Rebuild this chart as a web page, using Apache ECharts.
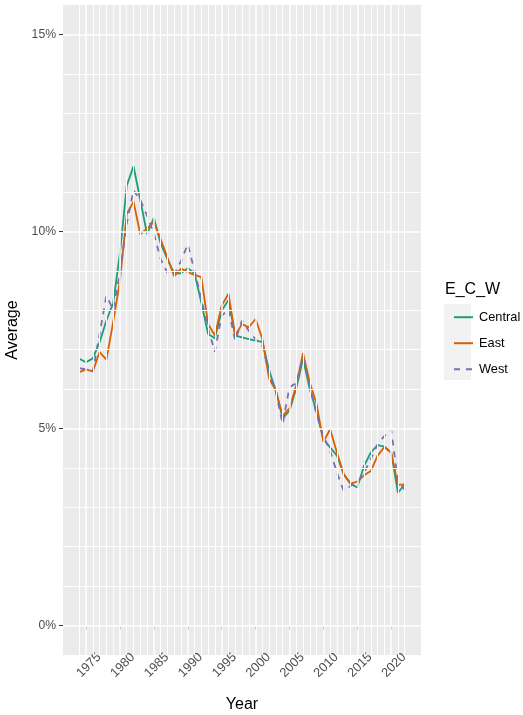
<!DOCTYPE html>
<html><head><meta charset="utf-8">
<script src="https://cdn.jsdelivr.net/npm/echarts@6/dist/echarts.min.js"></script>
<style>html,body{margin:0;padding:0;background:#fff}#c{width:523px;height:715px}</style>
</head><body><div id="c"></div>
<script>
const years = [1974,1975,1976,1977,1978,1979,1980,1981,1982,1983,1984,1985,1986,1987,1988,1989,1990,1991,1992,1993,1994,1995,1996,1997,1998,1999,2000,2001,2002,2003,2004,2005,2006,2007,2008,2009,2010,2011,2012,2013,2014,2015,2016,2017,2018,2019,2020,2021,2022];
const central = [6.77,6.68,6.78,7.19,7.74,8.18,9.45,11.16,11.66,10.8,9.93,10.35,9.7,9.3,8.94,8.94,9.07,8.94,8.2,7.40,7.29,7.99,8.26,7.36,7.31,7.27,7.23,7.20,6.47,5.96,5.25,5.45,6.02,6.76,6.0,5.41,4.73,4.52,4.31,3.84,3.60,3.50,4.05,4.39,4.58,4.54,4.39,3.37,3.58];
const east = [6.43,6.50,6.45,6.94,6.75,7.70,8.75,10.44,10.76,9.93,10.08,10.24,9.8,9.34,8.86,9.06,8.97,8.90,8.84,7.65,7.36,8.12,8.42,7.36,7.65,7.57,7.78,7.27,6.27,5.96,5.32,5.51,6.10,6.91,6.17,5.62,4.66,4.98,4.39,3.84,3.60,3.65,3.81,3.92,4.31,4.53,4.39,3.57,3.58];
const west = [6.53,6.50,6.45,7.40,8.37,8.02,8.96,10.2,11.05,10.8,10.4,9.95,9.3,8.95,8.9,9.25,9.68,9.0,8.29,7.53,6.95,7.86,8.03,7.23,7.74,7.48,7.27,7.10,6.42,5.92,5.11,6.05,6.15,6.81,6.08,5.36,4.81,4.43,3.88,3.42,3.54,3.63,3.88,4.22,4.60,4.81,4.98,3.65,3.45];
const seriesNames = ['Central','East','West'];
const xTickLabels = [1975,1980,1985,1990,1995,2000,2005,2010,2015,2020];
const yTickLabels = [0,5,10,15];
const yGridLines = [0,1,2,3,4,5,6,7,8,9,10,11,12,13,14,15];

const FONT = 'Liberation Sans, Arial, sans-serif';
const colors = {Central:'#1B9E77', East:'#D95F02', West:'#7570B3'};
const values = {Central: central, East: east, West: west};

const chart = echarts.init(document.getElementById('c'), null, {renderer:'canvas'});

const gridLineData = [];
years.forEach(y => gridLineData.push({xAxis: y, lineStyle:{color:'#FFFFFF', width: xTickLabels.includes(y) ? 1.5 : 1.0, type:'solid'}}));
yGridLines.forEach(v => gridLineData.push({yAxis: v, lineStyle:{color:'#FFFFFF', width: yTickLabels.includes(v) ? 1.5 : 1.0, type:'solid'}}));

const series = [{
  name: '_grid', type: 'line', data: [], z: 1, silent: true, animation: false,
  markLine: {silent: true, symbol: ['none','none'], label: {show:false}, animation: false,
    emphasis: {disabled: true}, data: gridLineData}
}];
seriesNames.forEach(n => {
  series.push({
    name: n, type: 'line', z: 3, symbol: 'none', showSymbol: false, animation: false,
    data: years.map((y, i) => [y, values[n][i]]),
    lineStyle: {color: colors[n], width: 1.8, type: n === 'West' ? [6, 6] : 'solid'},
    itemStyle: {color: colors[n]},
    emphasis: {disabled: true}
  });
});

chart.setOption({
  animation: false,
  backgroundColor: '#FFFFFF',
  textStyle: {fontFamily: FONT},
  grid: {left: 63, right: 102, top: 5, bottom: 60, show: true, backgroundColor: '#EBEBEB', borderWidth: 0, containLabel: false, outerBoundsMode: 'none'},
  xAxis: {
    type: 'value', min: 1971.6, max: 2024.4,
    splitLine: {show: false}, axisLine: {show: false},
    axisTick: {show: true, customValues: xTickLabels, length: 4, lineStyle: {color: '#333333', width: 1}},
    axisLabel: {customValues: xTickLabels, rotate: 45, align: 'center', verticalAlign: 'middle', margin: 13,
      padding: [0, 0, 0, 8],
      color: '#4D4D4D', fontSize: 12.8, fontFamily: FONT, formatter: v => String(v)},
    name: 'Year', nameLocation: 'middle', nameGap: 42,
    nameTextStyle: {color: '#000000', fontSize: 16, fontFamily: FONT}
  },
  yAxis: {
    type: 'value', min: -0.75, max: 15.75,
    splitLine: {show: false}, axisLine: {show: false},
    axisTick: {show: true, customValues: yTickLabels, length: 4, lineStyle: {color: '#333333', width: 1}},
    axisLabel: {customValues: yTickLabels, margin: 7, color: '#4D4D4D', fontSize: 12.2, fontFamily: FONT, formatter: v => v + '%'},
    name: 'Average', nameLocation: 'middle', nameGap: 36, nameRotate: 90,
    nameTextStyle: {color: '#000000', fontSize: 16, fontFamily: FONT}
  },
  legend: {
    data: seriesNames, orient: 'vertical', left: 448, top: 305.7,
    itemWidth: 19, itemHeight: 16, itemGap: 13, selectedMode: false,
    itemStyle: {color: 'rgba(0,0,0,0)', borderWidth: 0},
    textStyle: {color: '#000000', fontSize: 12.8, fontFamily: FONT, padding: [0,0,0,1]}
  },
  graphic: [
    {type: 'rect', left: 444, top: 304, z: 0, silent: true, shape: {width: 27, height: 76}, style: {fill: '#F2F2F2'}},
    {type: 'text', left: 445, top: 282, z: 1, silent: true, style: {text: 'E_C_W', font: '16px ' + FONT, fill: '#000000'}}
  ],
  series: series
});
</script>
</body></html>
